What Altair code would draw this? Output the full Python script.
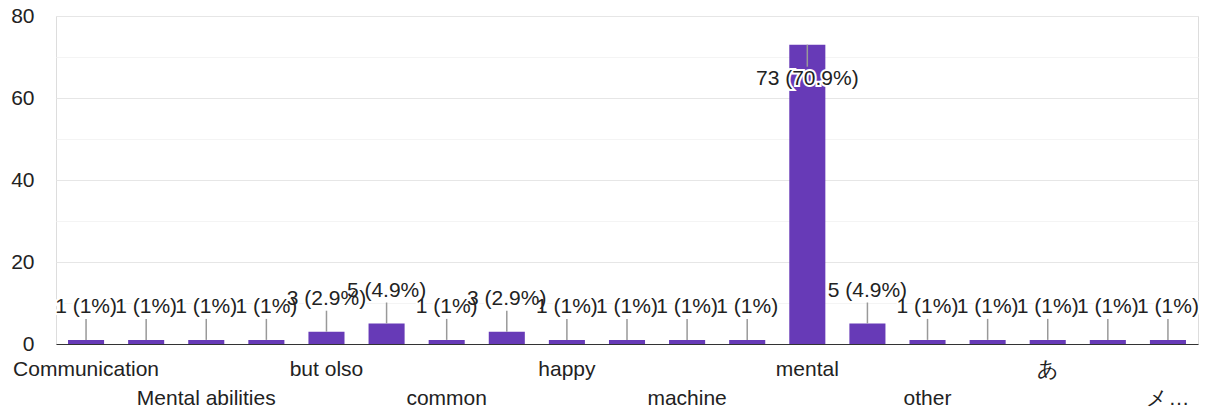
import json
import altair as alt
import pandas as pd

# Axis labels as shown (hidden labels in the original chart are blank)
labels = ["Communication", "", "Mental abilities", "", "but olso", "", "common", "",
          "happy", "", "machine", "", "mental", "", "other", "", "あ", "", "メ…"]
counts = [1, 1, 1, 1, 3, 5, 1, 3, 1, 1, 1, 1, 73, 5, 1, 1, 1, 1, 1]
y_ticks = [0, 10, 20, 30, 40, 50, 60, 70, 80]

total = sum(counts)


def fmt(v):
    p = round(100 * v / total, 1)
    s = f"{p:.1f}".rstrip("0").rstrip(".")
    return f"{v} ({s}%)"


df = pd.DataFrame({
    "idx": list(range(len(counts))),
    "count": counts,
    "text": [fmt(v) for v in counts],
})

FONT = "Liberation Sans"
FS = 21
arr = json.dumps(labels, ensure_ascii=False)
label_expr = f"(datum.value % 4 == 2) ? ['', {arr}[datum.value]] : {arr}[datum.value]"

x = alt.X("idx:O",
          scale=alt.Scale(paddingInner=0.4, paddingOuter=0.2),
          axis=alt.Axis(title=None, labelExpr=label_expr, labelAngle=0, ticks=False,
                        domainColor="#333333", domainWidth=1, labelPadding=14,
                        labelFontSize=FS, labelFont=FONT, labelColor="#222222",
                        labelLineHeight=29, labelBaseline="top", labelOverlap=False,
                        labelLimit=400))
y = alt.Y("count:Q",
          scale=alt.Scale(domain=[0, 80], nice=False),
          axis=alt.Axis(title=None, values=y_ticks,
                        labelExpr="datum.value % 20 == 0 ? datum.label : ''",
                        ticks=False, domain=False,
                        gridColor={"condition": {"test": "datum.value % 20 == 0", "value": "#e6e6e6"},
                                   "value": "#f4f4f4"},
                        labelPadding=22, labelFontSize=FS, labelFont=FONT,
                        labelColor="#222222"))

base = alt.Chart(df)

bars = base.mark_bar(color="#673ab7").encode(x=x, y=y)

outside = base.transform_filter("datum.count <= 40")
inside = base.transform_filter("datum.count > 40")

stem_out = outside.mark_rule(color="#999999", strokeWidth=1.5, y2Offset=-21).encode(
    x="idx:O", y="count:Q", y2="count:Q")
stem_in = inside.mark_rule(color="#999999", strokeWidth=1.5, y2Offset=22).encode(
    x="idx:O", y="count:Q", y2="count:Q")

txt_kw = dict(font=FONT, fontSize=FS, baseline="middle", align="center")
halo_out = outside.mark_text(dy=-33, color="white", stroke="white", strokeWidth=4, **txt_kw).encode(
    x="idx:O", y="count:Q", text="text:N")
text_out = outside.mark_text(dy=-33, color="#222222", **txt_kw).encode(
    x="idx:O", y="count:Q", text="text:N")
halo_in = inside.mark_text(dy=34, color="white", stroke="white", strokeWidth=4, **txt_kw).encode(
    x="idx:O", y="count:Q", text="text:N")
text_in = inside.mark_text(dy=34, color="#222222", **txt_kw).encode(
    x="idx:O", y="count:Q", text="text:N")

chart = alt.layer(bars, stem_out, stem_in, halo_out, text_out, halo_in, text_in).properties(
    width=1142, height=328,
    autosize=alt.AutoSizeParams(type="none"),
    padding={"left": 48, "top": 8, "right": 4, "bottom": 67},
).configure_view(stroke="#e6e6e6").configure(background="white")

chart.save("out.html", embed_options={"renderer": "svg", "actions": False})
